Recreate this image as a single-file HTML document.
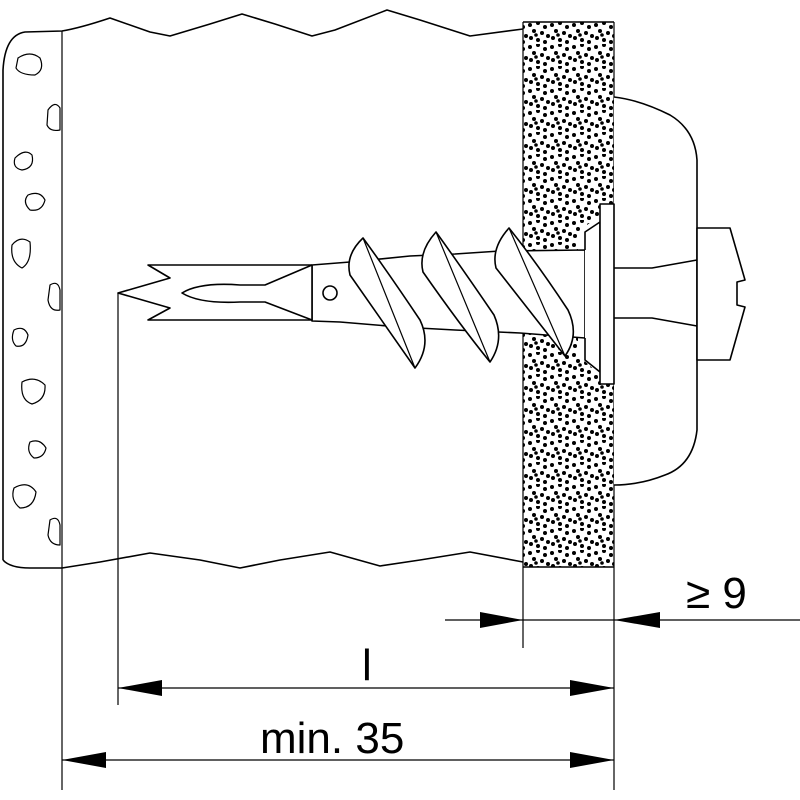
<!DOCTYPE html>
<html><head><style>body{margin:0;background:#fff}svg{display:block}</style></head><body>
<svg width="800" height="800" viewBox="0 0 800 800" xmlns="http://www.w3.org/2000/svg">
<defs>
<pattern id="dots" width="22" height="22" patternUnits="userSpaceOnUse">
<circle cx="2" cy="3" r="2"/><circle cx="10" cy="1" r="2"/><circle cx="17" cy="5" r="2"/>
<circle cx="6" cy="9" r="2"/><circle cx="14" cy="11" r="2"/><circle cx="20" cy="14" r="2"/>
<circle cx="3" cy="16" r="2"/><circle cx="10" cy="18" r="2"/><circle cx="17" cy="20" r="2"/>
<circle cx="8" cy="13" r="1.8"/>
</pattern>
</defs>
<g fill="none" stroke="#000" stroke-width="1.6" stroke-linejoin="round">
<rect x="523" y="22" width="91" height="545" fill="url(#dots)" stroke="none"/>
<line x1="523" y1="22" x2="523" y2="648" stroke-width="1.2"/>
<line x1="614" y1="22" x2="614" y2="790" stroke-width="1.2"/>
<line x1="523" y1="22" x2="614" y2="22"/>
<line x1="523" y1="567" x2="614" y2="567"/>
<path d="M3,560 L3,70 Q5,35 25,32 L62,31 Q80,28 110,18 L150,32 L170,36 L210,24 L242,14 L275,24 L312,36 L335,30 L387,10 L420,20 L445,28 L470,36 L523,29"/>
<path d="M3,560 Q10,568 30,568 L62,568 L100,562 L150,553 L200,560 L240,568 L280,560 L330,552 L380,566 L420,560 L470,552 L523,562"/>
<line x1="62" y1="31" x2="62" y2="790" stroke-width="1.2"/>
<g stroke-width="1.2">
<path d="M18,58 Q30,50 40,58 Q45,70 35,75 Q20,75 16,68 Z"/>
<path d="M48,110 Q55,100 60,108 L60,130 Q50,132 47,125 Z"/>
<path d="M15,158 Q25,148 32,155 Q35,168 22,170 Q12,168 15,158 Z"/>
<path d="M28,195 Q40,190 45,200 Q42,212 30,210 Q22,202 28,195 Z"/>
<path d="M12,245 Q20,235 30,242 Q32,262 22,268 Q10,262 12,245 Z"/>
<path d="M50,285 Q58,280 60,290 L60,310 Q50,312 48,300 Z"/>
<path d="M14,330 Q24,325 28,335 Q26,348 16,346 Q10,340 14,330 Z"/>
<path d="M22,382 Q35,375 45,385 Q46,400 32,404 Q20,400 22,382 Z"/>
<path d="M30,442 Q40,438 46,448 Q44,458 34,458 Q26,452 30,442 Z"/>
<path d="M14,488 Q28,480 36,492 Q34,508 20,508 Q10,500 14,488 Z"/>
<path d="M50,520 Q58,515 60,525 L60,545 Q50,545 48,535 Z"/>
</g>
<path d="M614,97 Q640,100 670,115 Q695,130 697,160 L697,430 Q693,465 665,475 Q640,485 614,485" fill="#fff"/>
<path d="M578,232 L600,215 L600,375 L578,355 Z" fill="#fff" stroke="none"/>
<path d="M312,265 L350,262 L410,256 L455,254 L500,251 L585,250 L585,338 L520,333 L455,330 L400,327 L340,322 L312,321 Z" fill="#fff"/>
<path d="M585,250 L585,232 L600,222 L600,372 L585,360 L585,338" fill="#fff"/>
<rect x="600" y="204" width="14" height="180" fill="#fff"/>
<path d="M614,268 L652,268 L697,260 M614,318 L652,318 L697,326"/>
<path d="M697,228 L730,228 L745,280 L737,282 L737,305 L745,307 L730,360 L697,360 Z" fill="#fff"/>
<path d="M363,238 Q345,255 350,275 Q385,325 415,368 Q432,345 420,320 Q390,275 363,238 Z" fill="#fff"/>
<path d="M363,238 L415,368" stroke-width="1.2"/>
<path d="M436,232 Q418,252 423,272 Q460,325 490,362 Q505,340 494,315 Q462,268 436,232 Z" fill="#fff"/>
<path d="M436,232 L490,362" stroke-width="1.2"/>
<path d="M509,228 Q491,248 496,268 Q535,318 565,356 Q580,335 568,310 Q537,263 509,228 Z" fill="#fff"/>
<path d="M509,228 L565,356" stroke-width="1.2"/>
<path d="M312,265 L148,265 L170,278 L118,293 L170,308 L148,320 L312,320" fill="#fff"/>
<line x1="312" y1="265" x2="312" y2="321"/>
<path d="M312,265 L265,285 L240,285 Q200,282 182,293 Q200,304 240,302 L265,302 L312,320"/>
<circle cx="330" cy="293" r="7"/>
<line x1="118" y1="293" x2="118" y2="705" stroke-width="1.2"/>
<g stroke-width="1.2">
<line x1="445" y1="620" x2="800" y2="620"/>
<line x1="118" y1="688" x2="614" y2="688"/>
<line x1="62" y1="760" x2="614" y2="760"/>
</g>
</g>
<g fill="#000">
<path d="M523,620 L480,612 L480,628 Z"/>
<path d="M614,620 L660,612 L660,628 Z"/>
<path d="M118,688 L162,680 L162,696 Z"/>
<path d="M614,688 L570,680 L570,696 Z"/>
<path d="M62,760 L106,752 L106,768 Z"/>
<path d="M614,760 L570,752 L570,768 Z"/>
</g>
<g font-family="Liberation Sans, sans-serif" font-size="44" fill="#000">
<text x="686" y="608">≥ 9</text>
<text x="362" y="680">l</text>
<text x="260" y="753">min. 35</text>
</g>
</svg>
</body></html>
